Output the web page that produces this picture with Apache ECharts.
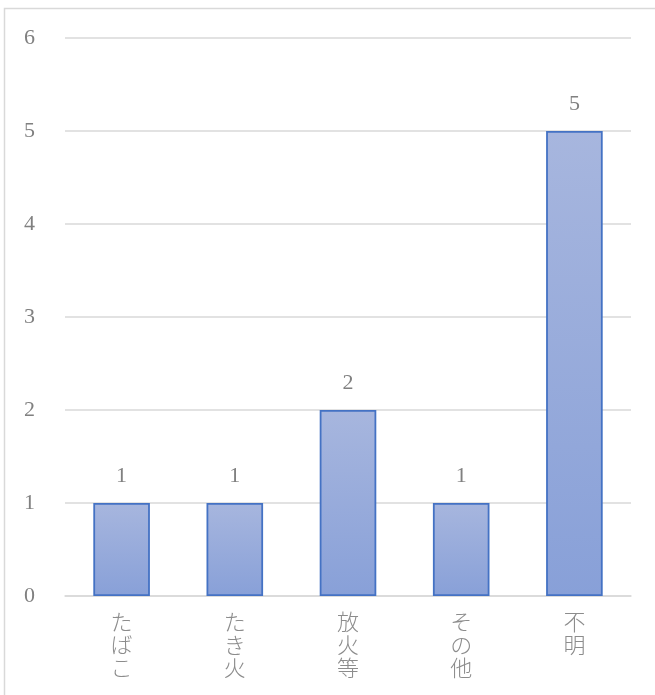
<!DOCTYPE html>
<html><head><meta charset="utf-8">
<script src="https://cdn.jsdelivr.net/npm/echarts@6/dist/echarts.min.js"></script>
<style>html,body{margin:0;padding:0;background:#fff}#c{width:655px;height:695px}</style>
</head><body><div id="c"></div>
<script>
const categories = ['たばこ', 'たき火', '放火等', 'その他', '不明'];
const values = [1, 1, 2, 1, 5];
const yTicks = [0, 1, 2, 3, 4, 5, 6];

const chart = echarts.init(document.getElementById('c'));
chart.setOption({
  animation: false,
  graphic: [{
    type: 'rect', shape: { x: 4.5, y: 8.5, width: 700, height: 700 },
    style: { fill: 'none', stroke: '#d9d9d9', lineWidth: 1.5 }, silent: true, z: -1
  }],
  grid: { left: 65, right: 24, top: 38, bottom: 99, containLabel: false },
  xAxis: {
    type: 'category', data: categories,
    axisLine: { lineStyle: { color: '#d9d9d9', width: 1.5 } },
    axisTick: { show: false },
    axisLabel: {
      color: '#8c8c8c', fontSize: 22, fontFamily: 'Noto Sans CJK JP', fontWeight: 300,
      lineHeight: 23, margin: 14, interval: 0,
      formatter: v => v.split('').join('\n')
    }
  },
  yAxis: {
    type: 'value', min: 0, max: 6, interval: 1,
    axisLine: { show: false }, axisTick: { show: false },
    splitLine: { lineStyle: { color: '#d9d9d9', width: 1.5 } },
    axisLabel: {
      color: '#808080', fontSize: 22, fontFamily: 'Liberation Serif', margin: 30,
      formatter: v => yTicks.includes(v) ? String(v) : ''
    }
  },
  series: [{
    type: 'bar', data: values, barWidth: '50%',
    itemStyle: {
      color: new echarts.graphic.LinearGradient(0, 0, 0, 1, [
        { offset: 0, color: '#a7b6de' },
        { offset: 1, color: '#88a0d8' }
      ]),
      borderColor: '#4472c4', borderWidth: 1.8
    },
    label: {
      show: true, position: 'top', distance: 16,
      color: '#808080', fontSize: 22, fontFamily: 'Liberation Serif'
    }
  }]
});
</script></body></html>
